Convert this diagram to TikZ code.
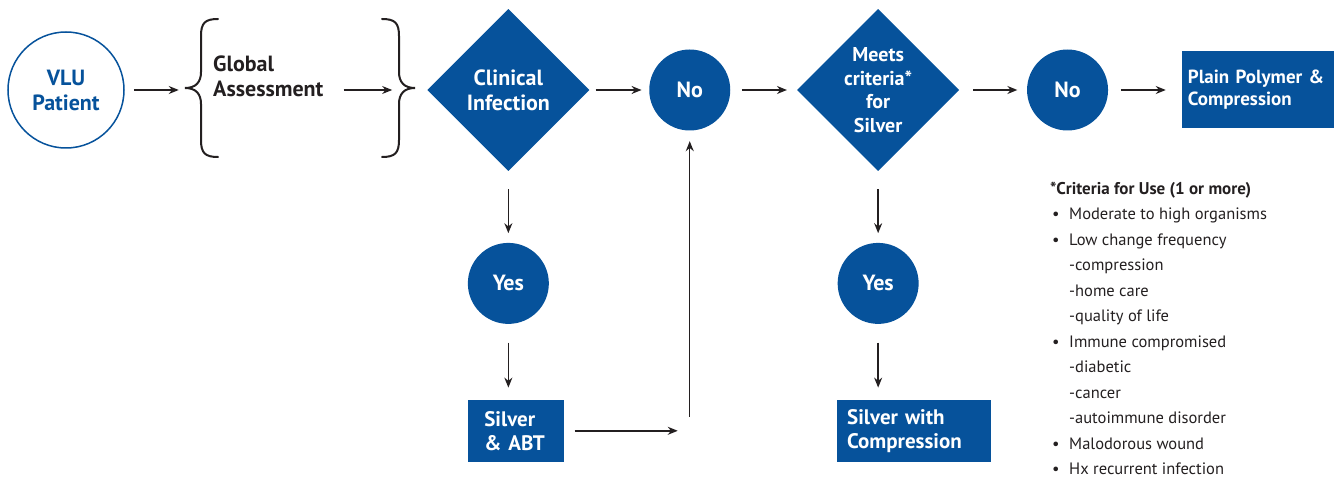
\documentclass[tikz,border=0pt]{standalone}
\usepackage{fontspec}
\setmainfont{PT Sans}
\usepackage{tikz}
\usetikzlibrary{arrows.meta,positioning,shapes.geometric}
\definecolor{vlublue}{RGB}{6,82,155}
\definecolor{inkgray}{RGB}{35,31,32}
\tikzset{
  patient/.style={
    circle,
    draw=vlublue,
    line width=1.5pt,
    minimum size=116pt,
    inner sep=0pt,
    align=center,
    text=vlublue,
    font=\fontsize{22}{25}\selectfont\bfseries
  },
  decision/.style={
    diamond,
    fill=vlublue,
    minimum width=162pt,
    minimum height=162pt,
    inner sep=0pt,
    align=center,
    text=white,
    font=\fontsize{22}{25}\selectfont\bfseries
  },
  answer/.style={
    circle,
    fill=vlublue,
    minimum size=81pt,
    inner sep=0pt,
    text=white,
    font=\fontsize{22}{25}\selectfont\bfseries
  },
  treatment/.style={
    rectangle,
    fill=vlublue,
    align=left,
    inner sep=0pt,
    text=white,
    font=\fontsize{21}{24}\selectfont\bfseries
  },
  curly/.style={
    line width=2pt,
    inkgray,
    line cap=round
  },
  arrow/.style={
    -{Stealth[length=10pt,width=8pt]},
    line width=1.4pt,
    inkgray
  }
}
\newcommand{\critdot}{\makebox[19pt][l]{\hspace{2pt}\textbullet}}

\begin{document}
\begin{tikzpicture}[x=1pt,y=-1pt]
\useasboundingbox (0,0) rectangle (1334,481);
% top row
\node[patient] (vlu) at (66,90) {VLU\\Patient};
\node[minimum width=230pt,minimum height=138pt,inner sep=0pt,right=61pt of vlu] (ga) {};
\node[anchor=west,align=left,inner sep=0pt,text=inkgray,
      font=\fontsize{22}{25}\selectfont\bfseries] (gatxt) at (213,76) {Global\\Assessment};
\node[decision,right=11pt of ga] (clin) {Clinical\\Infection};
\node[answer,right=59.5pt of clin] (no1) {No};
\node[decision,font=\fontsize{20}{23.5}\selectfont\bfseries,right=66.5pt of no1] (meets) {Meets\\criteria*\\for\\Silver};
\node[answer,right=67.5pt of meets] (no2) {No};
\node[treatment,font=\fontsize{19}{22}\selectfont\bfseries,minimum width=155pt,
      minimum height=77pt,text width=143pt,right=73.5pt of no2] (plain) {Plain Polymer \&\\Compression};
% columns below
\node[answer,below=71.5pt of clin] (yes1) {Yes};
\node[treatment,minimum width=96pt,minimum height=62pt,text width=64pt,
      below=75.5pt of yes1,xshift=8pt] (silv1) {Silver\\\& ABT};
\node[answer,below=71.5pt of meets] (yes2) {Yes};
\node[treatment,minimum width=154pt,minimum height=62pt,text width=134pt,
      below=75.5pt of yes2,xshift=36pt] (silv2) {Silver with\\Compression};
\coordinate (turn) at (no1 |- silv1);
% braces
\draw[curly] (218,19) .. controls (205,19) and (201,23) .. (201,36) -- (201,72)
  .. controls (201,82) and (196,88) .. (185,88)
  .. controls (196,88) and (201,94) .. (201,104) -- (201,140)
  .. controls (201,153) and (205,157) .. (218,157);
\draw[curly] (382,19) .. controls (395,19) and (399,23) .. (399,36) -- (399,72)
  .. controls (399,82) and (404,88) .. (415,88)
  .. controls (404,88) and (399,94) .. (399,104) -- (399,140)
  .. controls (399,153) and (395,157) .. (382,157);
% arrows
\draw[arrow,shorten <=9pt,shorten >=7pt] (vlu) -- (ga);
\draw[arrow,shorten <=20pt,shorten >=24pt] (gatxt.east |- ga.east) -- (ga.east);
\draw[arrow,shorten <=6pt,shorten >=7.5pt] (clin) -- (no1);
\draw[arrow,shorten <=11.5pt,shorten >=10pt] (no1) -- (meets);
\draw[arrow,shorten <=14pt,shorten >=9.5pt] (meets) -- (no2);
\draw[arrow,shorten <=12.5pt,shorten >=16pt] (no2) -- (plain);
\draw[arrow,shorten <=18pt,shorten >=9.5pt] (clin) -- (yes1);
\draw[arrow,shorten <=18.5pt,shorten >=12pt] (yes1) -- (yes1 |- silv1.north);
\draw[arrow,shorten <=18pt,shorten >=9.5pt] (meets) -- (yes2);
\draw[arrow,shorten <=18.5pt,shorten >=12pt] (yes2) -- (yes2 |- silv2.north);
\draw[arrow,shorten <=10pt,shorten >=12pt] (silv1) -- (turn);
\draw[arrow,shorten <=14pt,shorten >=10.5pt] (turn) -- (no1);
% criteria
\node[anchor=north west,inner sep=0pt,text=inkgray,font=\fontsize{16.5}{25.5}\selectfont] (crit) at (1050,176) {%
  \begin{tabular}{@{}l@{}l@{}}
  \multicolumn{2}{@{}l}{\fontsize{17}{25.5}\selectfont\bfseries *Criteria for Use (1 or more)}\\
  \critdot & Moderate to high organisms\\
  \critdot & Low change frequency\\
   & -compression\\
   & -home care\\
   & -quality of life\\
  \critdot & Immune compromised\\
   & -diabetic\\
   & -cancer\\
   & -autoimmune disorder\\
  \critdot & Malodorous wound\\
  \critdot & Hx recurrent infection
  \end{tabular}};
\end{tikzpicture}
\end{document}
